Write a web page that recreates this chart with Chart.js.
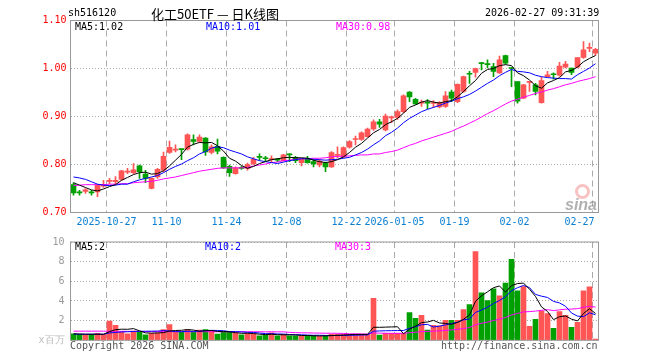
<!DOCTYPE html>
<html><head><meta charset="utf-8">
<script src="https://cdn.jsdelivr.net/npm/chart.js@4.4.1/dist/chart.umd.min.js"></script>
<style>
html,body{margin:0;padding:0;background:#fff;}
#wrap{position:relative;width:660px;height:360px;overflow:hidden;font-family:"DejaVu Sans Mono",monospace;}
canvas{position:absolute;left:0;}
.t{position:absolute;white-space:nowrap;font-size:10px;line-height:12px;color:#000;}
</style></head><body>
<div id="wrap">
<canvas id="pc" width="660" height="240" style="top:0px"></canvas>
<canvas id="vc" width="660" height="130" style="top:230px"></canvas>
<div class="t" style="left:68px;top:7px;">sh516120</div>
<div class="t" style="left:151px;top:5px;font-family:'Noto Sans CJK SC';font-size:13px;line-height:17px;">化工50ETF — 日K线图</div>
<div class="t" style="left:485px;top:7px;">2026-02-27 09:31:39</div>
<div class="t" style="left:75px;top:20.5px;color:#000">MA5:1.02</div>
<div class="t" style="left:206px;top:20.5px;color:#0000ff">MA10:1.01</div>
<div class="t" style="left:336px;top:20.5px;color:#ff00ff">MA30:0.98</div>
<div class="t" style="left:75px;top:240.5px;color:#000">MA5:2</div>
<div class="t" style="left:205px;top:240.5px;color:#0000ff">MA10:2</div>
<div class="t" style="left:335px;top:240.5px;color:#ff00ff">MA30:3</div>
<div class="t" style="left:70px;top:340px;color:#555">Copyright 2026 SINA.COM</div>
<div class="t" style="left:441px;top:340px;color:#555">http://finance.sina.com.cn</div>
<div style="position:absolute;left:575px;top:184px;width:9px;height:9px;border:3px solid rgba(240,120,120,0.45);border-radius:50%;"></div>
<div class="t" style="left:565px;top:196px;font-family:'Liberation Sans';font-style:italic;font-weight:bold;font-size:16px;line-height:18px;color:rgba(150,150,150,0.75);">sina</div>
</div>
<script>
// ---- data ----
const tickIdx = [6,16,26,36,46,54,64,74,87];
const tickLabels = ['2025-10-27','11-10','11-24','12-08','12-22','2026-01-05','01-19','02-02','02-27'];
const priceTicks = [0.70,0.80,0.90,1.00,1.10];
const volTicks = [0,2,4,6,8,10];

const open = [0.758,0.742,0.744,0.742,0.743,0.755,0.765,0.764,0.769,0.784,
0.783,0.797,0.780,0.750,0.774,0.788,0.825,0.830,0.832,0.832,
0.852,0.848,0.855,0.825,0.838,0.815,0.796,0.781,0.793,0.792,
0.801,0.816,0.813,0.810,0.810,0.808,0.821,0.815,0.804,0.811,
0.806,0.799,0.803,0.795,0.819,0.816,0.836,0.852,0.852,0.858,
0.874,0.889,0.872,0.897,0.898,0.910,0.951,0.936,0.928,0.929,
0.927,0.920,0.921,0.951,0.931,0.952,0.989,0.992,1.011,1.009,
1.004,0.991,1.027,1.001,0.973,0.938,0.971,0.966,0.929,0.983,
0.988,0.986,1.003,1.001,1.003,1.023,1.042,1.032];
const high = [0.762,0.746,0.750,0.746,0.758,0.767,0.771,0.775,0.788,0.792,
0.802,0.799,0.788,0.772,0.792,0.826,0.849,0.841,0.832,0.864,
0.862,0.862,0.856,0.841,0.853,0.816,0.799,0.795,0.796,0.803,
0.815,0.822,0.817,0.818,0.813,0.821,0.822,0.817,0.812,0.817,
0.810,0.810,0.805,0.827,0.837,0.837,0.850,0.859,0.868,0.876,
0.893,0.894,0.905,0.901,0.914,0.945,0.952,0.938,0.934,0.935,
0.933,0.931,0.952,0.955,0.968,0.984,0.994,1.001,1.013,1.018,
1.011,1.026,1.028,1.002,0.973,0.967,0.973,0.969,0.982,0.994,
0.991,1.013,1.015,1.001,1.023,1.056,1.053,1.042];
const low = [0.736,0.736,0.740,0.736,0.733,0.752,0.760,0.760,0.767,0.781,
0.781,0.771,0.762,0.749,0.771,0.785,0.823,0.826,0.810,0.830,
0.841,0.846,0.819,0.822,0.822,0.792,0.775,0.780,0.790,0.788,
0.800,0.809,0.808,0.804,0.806,0.807,0.806,0.804,0.797,0.803,
0.795,0.795,0.785,0.794,0.814,0.814,0.834,0.841,0.850,0.857,
0.871,0.877,0.870,0.887,0.894,0.908,0.931,0.925,0.921,0.916,
0.919,0.918,0.919,0.931,0.929,0.950,0.969,0.982,0.997,1.001,
0.983,0.990,1.009,0.962,0.928,0.937,0.952,0.945,0.928,0.982,
0.978,0.984,1.001,0.987,1.001,1.021,1.035,1.027];
const close = [0.741,0.741,0.747,0.741,0.757,0.757,0.766,0.767,0.787,0.786,
0.789,0.785,0.771,0.771,0.790,0.817,0.836,0.832,0.831,0.862,
0.848,0.857,0.826,0.837,0.828,0.793,0.783,0.793,0.792,0.800,
0.811,0.815,0.812,0.812,0.809,0.820,0.820,0.808,0.811,0.804,
0.801,0.807,0.795,0.825,0.820,0.835,0.848,0.853,0.866,0.874,
0.889,0.884,0.901,0.898,0.910,0.943,0.941,0.926,0.929,0.928,
0.928,0.929,0.943,0.938,0.967,0.983,0.988,1.000,1.010,1.008,
0.994,1.018,1.011,1.000,0.932,0.966,0.972,0.952,0.975,0.987,
0.987,1.005,1.009,0.992,1.023,1.039,1.043,1.040];
const ma5 = [0.762,0.757,0.752,0.747,0.745,0.749,0.754,0.758,0.767,0.773,
0.779,0.783,0.784,0.780,0.781,0.787,0.797,0.809,0.821,0.836,
0.842,0.846,0.845,0.846,0.839,0.828,0.813,0.807,0.798,0.792,
0.796,0.802,0.806,0.810,0.812,0.814,0.815,0.814,0.814,0.813,
0.809,0.806,0.804,0.806,0.810,0.816,0.825,0.836,0.844,0.855,
0.866,0.873,0.883,0.889,0.896,0.907,0.919,0.924,0.930,0.933,
0.930,0.928,0.931,0.933,0.941,0.952,0.964,0.975,0.990,0.998,
1.000,1.006,1.008,1.006,0.991,0.985,0.976,0.964,0.959,0.970,
0.975,0.981,0.993,0.996,1.003,1.014,1.021,1.027];
const ma10 = [0.774,0.772,0.769,0.764,0.759,0.757,0.756,0.757,0.759,0.759,
0.764,0.768,0.771,0.774,0.777,0.783,0.790,0.796,0.801,0.808,
0.814,0.822,0.827,0.834,0.837,0.835,0.830,0.826,0.822,0.816,
0.812,0.808,0.806,0.804,0.802,0.805,0.808,0.810,0.812,0.812,
0.811,0.810,0.809,0.810,0.811,0.813,0.815,0.820,0.825,0.832,
0.841,0.849,0.860,0.867,0.876,0.887,0.896,0.903,0.910,0.915,
0.919,0.923,0.928,0.932,0.937,0.941,0.946,0.953,0.961,0.969,
0.976,0.985,0.992,0.998,0.994,0.993,0.991,0.986,0.983,0.981,
0.980,0.979,0.979,0.978,0.987,0.994,1.001,1.010];
const ma30 = [0.756,0.757,0.758,0.758,0.758,0.758,0.759,0.759,0.760,0.760,
0.762,0.763,0.764,0.765,0.767,0.770,0.772,0.774,0.777,0.780,
0.783,0.786,0.788,0.790,0.792,0.793,0.793,0.793,0.793,0.794,
0.797,0.799,0.801,0.804,0.805,0.808,0.809,0.811,0.812,0.812,
0.813,0.813,0.814,0.816,0.817,0.817,0.818,0.819,0.820,0.820,
0.822,0.822,0.825,0.827,0.830,0.835,0.840,0.844,0.849,0.853,
0.857,0.861,0.865,0.869,0.875,0.880,0.886,0.892,0.899,0.906,
0.912,0.919,0.926,0.932,0.936,0.940,0.944,0.948,0.951,0.955,
0.958,0.962,0.966,0.969,0.973,0.976,0.979,0.983];
const vol = [0.65,0.6,0.55,0.6,0.7,0.6,1.96,1.53,0.87,0.66,
0.93,0.8,0.56,0.7,0.76,1.1,1.6,0.86,0.8,1.1,
0.83,1.03,1.1,0.93,0.63,0.83,0.8,0.73,0.56,0.7,
0.66,0.46,0.53,0.76,0.46,0.6,0.46,0.46,0.46,0.46,
0.46,0.4,0.46,0.6,0.6,0.6,0.6,0.6,0.6,0.6,
4.26,0.53,0.7,0.7,0.7,0.7,2.83,2.23,2.53,1.03,
1.53,1.46,2.03,2.03,2.03,3.13,3.63,9.03,4.83,4.03,
5.23,4.53,5.83,8.23,5.03,5.46,1.43,2.13,2.96,2.73,
1.23,2.93,2.53,1.33,1.83,5.03,5.43,0.13];
const vma5 = [0.66,0.64,0.62,0.62,0.62,0.61,0.88,1.08,1.13,1.12,
1.19,0.96,0.76,0.73,0.75,0.78,0.94,1.00,1.02,1.09,
1.04,0.92,0.97,1.00,0.90,0.90,0.86,0.78,0.71,0.72,
0.69,0.62,0.58,0.62,0.57,0.56,0.56,0.55,0.49,0.49,
0.46,0.45,0.45,0.48,0.50,0.53,0.57,0.60,0.60,0.60,
1.33,1.32,1.34,1.36,1.38,0.67,1.13,1.43,1.80,1.86,
2.03,1.76,1.72,1.62,1.82,2.14,2.57,3.97,4.53,4.93,
5.35,5.53,4.89,5.57,5.77,5.82,5.20,4.46,3.40,2.94,
2.10,2.40,2.48,2.15,1.97,2.73,3.21,2.73];
const vma10 = [0.63,0.62,0.62,0.62,0.62,0.62,0.75,0.80,0.85,0.87,
0.90,0.92,0.92,0.93,0.94,0.99,0.95,0.88,0.88,0.92,
0.91,0.93,0.99,1.01,1.00,0.97,0.89,0.88,0.85,0.81,
0.80,0.74,0.68,0.67,0.65,0.63,0.59,0.57,0.56,0.53,
0.51,0.51,0.50,0.48,0.50,0.50,0.51,0.52,0.54,0.55,
0.93,0.95,0.97,0.98,0.99,1.00,1.22,1.39,1.58,1.62,
1.35,1.44,1.57,1.71,1.84,2.08,2.16,2.84,3.07,3.37,
3.74,4.05,4.43,5.05,5.35,5.58,5.36,4.67,4.49,4.36,
3.96,3.80,3.47,2.78,2.46,2.41,2.80,2.60];
const vma30 = [0.93,0.93,0.93,0.93,0.93,0.93,0.92,0.92,0.91,0.91,
0.90,0.90,0.89,0.89,0.89,0.88,0.88,0.88,0.88,0.87,
0.87,0.87,0.87,0.87,0.87,0.87,0.87,0.87,0.87,0.87,
0.87,0.87,0.86,0.87,0.86,0.86,0.81,0.78,0.76,0.76,
0.74,0.73,0.72,0.72,0.71,0.70,0.66,0.66,0.65,0.63,
0.75,0.73,0.72,0.71,0.71,0.71,0.77,0.82,0.89,0.90,
0.93,0.96,1.01,1.06,1.11,1.19,1.30,1.58,1.73,1.85,
2.01,2.15,2.32,2.58,2.73,2.89,2.92,2.97,3.05,3.12,
3.02,3.10,3.16,3.18,3.22,3.36,3.45,3.38];

// ---- styling ----
const RED = '#ff5555', GREEN = '#00a000';
const DATE_COLOR = '#0a7fd2';
const N = close.length;
const barColors = close.map((c, i) => c > open[i] ? RED : GREEN);
const pts = arr => arr.map((y, i) => ({x: i + 0.5, y}));
const lineDs = (arr, color) => ({type: 'line', data: pts(arr), borderColor: color, borderWidth: 1,
  pointRadius: 0, tension: 0, fill: false, order: 0});

const framePlugin = {id: 'frame', afterDraw(c) {
  const {ctx, chartArea: a} = c;
  ctx.save(); ctx.strokeStyle = '#999'; ctx.lineWidth = 1;
  ctx.strokeRect(a.left, a.top, a.right - a.left, a.bottom - a.top);
  ctx.restore();
}};
const dateLabelPlugin = {id: 'dates', afterDraw(c) {
  const s = c.scales.x, ctx = c.ctx, a = c.chartArea;
  ctx.save(); ctx.font = '10px "DejaVu Sans Mono"'; ctx.fillStyle = DATE_COLOR; ctx.textBaseline = 'middle';
  tickIdx.forEach((v, k) => {
    const t = tickLabels[k], w = ctx.measureText(t).width;
    let x = s.getPixelForValue(v) - w / 2;
    if (x + w > a.right - 4) x = a.right - 4 - w;
    ctx.fillText(t, x, a.bottom + 10);
  });
  ctx.restore();
}};

const xAxis = (h) => ({
  type: 'linear', min: 0, max: N, offset: false,
  afterBuildTicks: s => { s.ticks = tickIdx.map(v => ({value: v})); },
  afterFit: s => { s.height = h; },
  ticks: {display: false},
  grid: {color: '#aaa', lineWidth: 1, drawTicks: false, offset: false},
  border: {display: false, dash: [6, 4]}
});

new Chart(document.getElementById('pc'), {
  type: 'bar',
  data: {datasets: [
    lineDs(ma5, '#000000'), lineDs(ma10, '#0000ff'), lineDs(ma30, '#ff00ff'),
    {type: 'bar', data: open.map((o, i) => ({x: i + 0.5, y: [o, close[i]]})), backgroundColor: barColors,
     barThickness: 5, minBarLength: 1, grouped: false, borderWidth: 0, order: 1},
    {type: 'bar', data: low.map((l, i) => ({x: i + 0.5, y: [l, high[i]]})), backgroundColor: barColors,
     barThickness: 1, grouped: false, borderWidth: 0, order: 2}
  ]},
  options: {
    responsive: false, animation: false, devicePixelRatio: 1,
    layout: {padding: {left: 0, right: 61.5, top: 20.5, bottom: 0}},
    plugins: {legend: {display: false}, tooltip: {enabled: false}},
    scales: {
      x: xAxis(27.5),
      y: {min: 0.7, max: 1.1,
        afterBuildTicks: s => { s.ticks = priceTicks.map(v => ({value: v})); },
        afterFit: s => { s.width = 70.5; },
        ticks: {color: '#ff0000', font: {family: 'DejaVu Sans Mono', size: 10}, padding: 4,
          callback: v => Number(v).toFixed(2)},
        grid: {color: '#aaa', drawTicks: false},
        border: {display: false, dash: [1, 2]}}
    }
  },
  plugins: [framePlugin, dateLabelPlugin]
});

new Chart(document.getElementById('vc'), {
  type: 'bar',
  data: {datasets: [
    lineDs(vma5, '#000000'), lineDs(vma10, '#0000ff'), lineDs(vma30, '#ff00ff'),
    {type: 'bar', data: vol.map((v, i) => ({x: i + 0.5, y: v})), backgroundColor: barColors,
     barThickness: 5, grouped: false, borderWidth: 0, order: 1}
  ]},
  options: {
    responsive: false, animation: false, devicePixelRatio: 1,
    layout: {padding: {left: 0, right: 61.5, top: 10.3, bottom: 19.7}},
    plugins: {legend: {display: false}, tooltip: {enabled: false}},
    scales: {
      x: xAxis(0),
      y: {min: 0, max: 10,
        afterBuildTicks: s => { s.ticks = volTicks.map(v => ({value: v})); },
        afterFit: s => { s.width = 70.5; },
        ticks: {color: c => c.tick && c.tick.value === 0 ? '#bbb' : '#999',
          font: {family: 'DejaVu Sans Mono', size: 10}, padding: 6,
          callback: v => v === 0 ? 'x百万' : String(v)},
        grid: {color: '#aaa', drawTicks: false},
        border: {display: false, dash: [1, 2]}}
    }
  },
  plugins: [framePlugin]
});
</script>
</body></html>
